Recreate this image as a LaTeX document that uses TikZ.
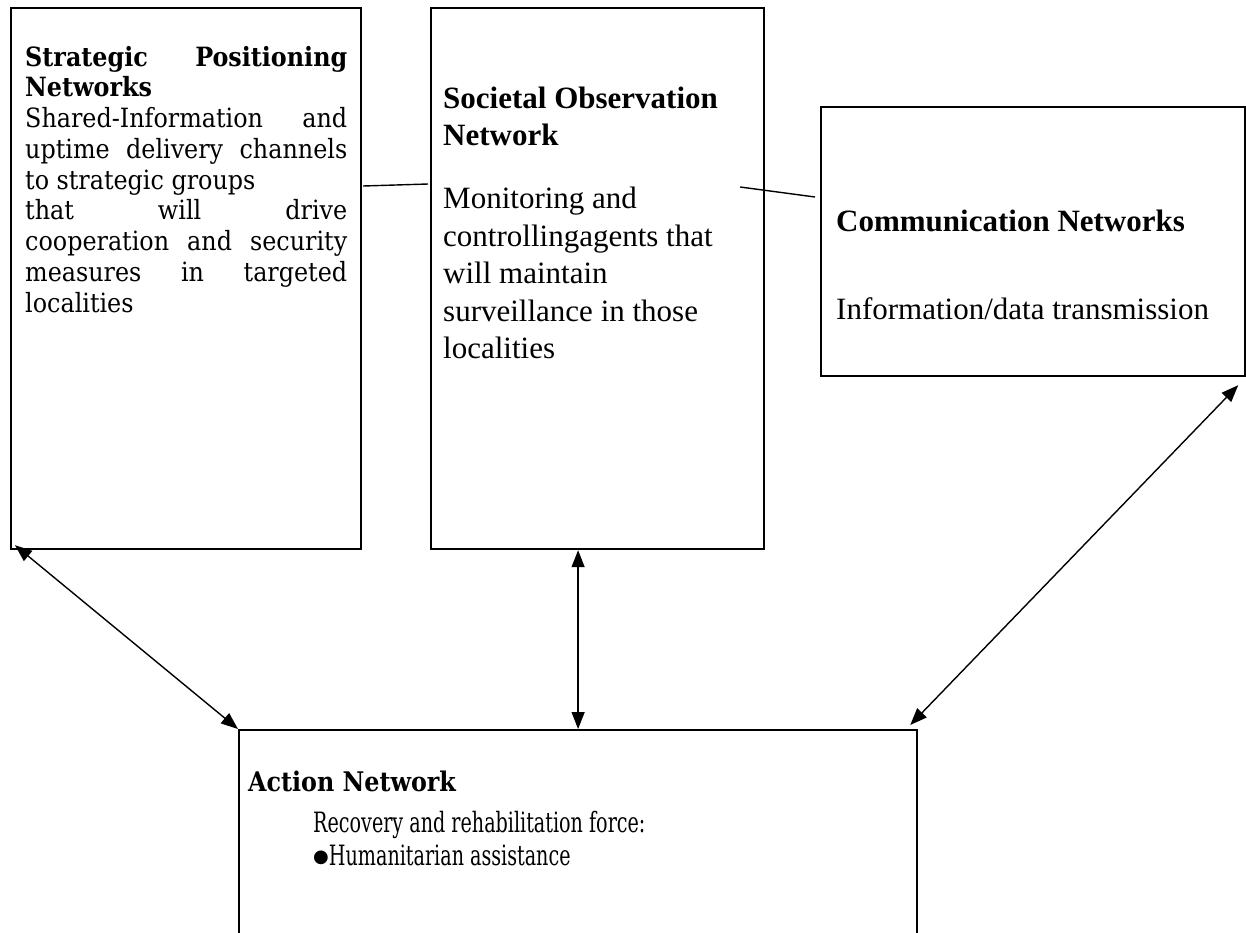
\documentclass[tikz,border=0pt]{standalone}
\usepackage{fontspec}
\setmainfont{Liberation Serif}
\newfontfamily\camb{DejaVu Serif Condensed}
\newfontfamily\cambn{DejaVu Serif Condensed}[FakeStretch=0.76]
\newfontfamily\cambb{DejaVu Serif Condensed Bold}[FakeStretch=0.98]
\newfontfamily\dsans{DejaVu Sans}
\usetikzlibrary{arrows.meta,calc}
\newcommand\jline[1]{\hbox to\hsize{#1}}
\begin{document}
\begin{tikzpicture}[x=1pt,y=-1pt,
  box/.style={draw,line width=2.2pt,inner sep=0pt,anchor=north west},
  conn/.style={line width=1.4pt},
  biarrow/.style={line width=1.4pt,{Triangle[length=17pt,width=13pt]}-{Triangle[length=17pt,width=13pt]}},
  txt/.style={anchor=base west,inner sep=0pt}]
\useasboundingbox (0,0) rectangle (1246,932);
\clip (0,0) rectangle (1246,932);
\fill[white] (0,0) rectangle (1246,932);
% boxes
\node[box,minimum width=350pt,minimum height=541pt] (sp) at (10,7) {};
\node[box,minimum width=333pt,minimum height=541pt] (so) at (430,7) {};
\node[box,minimum width=424pt,minimum height=269pt] (cn) at (820,106) {};
\node[box,minimum width=678pt,minimum height=230pt] (an) at (238,729) {};
% texts
\node[txt] (spt) at (25,66) {\camb\fontsize{26.5}{30.75}\selectfont\vtop{\hsize=322pt
 \jline{\bfseries Strategic\hfill Positioning}
 \jline{\bfseries Networks\hfill}
 \jline{Shared-Information\hfill and}
 \jline{uptime\hfill delivery\hfill channels}
 \jline{to strategic groups\hfill}
 \jline{that\hfill will\hfill drive}
 \jline{cooperation\hfill and\hfill security}
 \jline{measures\hfill in\hfill targeted}
 \jline{localities\hfill}}};
\node[txt] (sot) at (443,108) {\fontsize{31}{37.5}\selectfont\vtop{\hsize=310pt
 \hbox{\bfseries Societal Observation}
 \hbox{\bfseries Network}
 \vskip 25.5pt
 \hbox{Monitoring and}
 \hbox{controllingagents that}
 \hbox{will maintain}
 \hbox{surveillance in those}
 \hbox{localities}}};
\node[txt] (cnt) at (836,231) {\fontsize{31}{37.5}\selectfont\bfseries Communication Networks};
\node[txt] (cnb) at (836,319) {\fontsize{31}{37.5}\selectfont Information/data transmission};
\node[txt] (ant) at (248,791) {\cambb\fontsize{27}{30}\selectfont Action Network};
\node[txt] (anb) at (313,832) {\cambn\fontsize{28}{30}\selectfont Recovery and rehabilitation force:};
\node[txt] (anc) at (313,865) {\raisebox{3pt}{\dsans\fontsize{18}{30}\selectfont ●}\cambn\fontsize{28}{30}\selectfont Humanitarian assistance};
% plain connectors
\coordinate (l1a) at ($(sp.north east)+(1,179)$);
\coordinate (l1b) at ($(so.north west)+(-2,177)$);
\draw[conn] (l1a) -- (l1b);
\coordinate (l2a) at ($(so.north east)+(-25,180)$);
\coordinate (l2b) at ($(cn.north west)+(-5,91)$);
\draw[conn] (l2a) -- (l2b);
% arrows
\draw[biarrow] ($(sp.south west)+(5,-5)$) -- (an.north west);
\draw[biarrow] (an.north |- so.south) -- (an.north);
\draw[biarrow] ($(cn.south east)+(-8,8)$) -- ($(an.north east)+(-8,-4)$);
\end{tikzpicture}
\end{document}
